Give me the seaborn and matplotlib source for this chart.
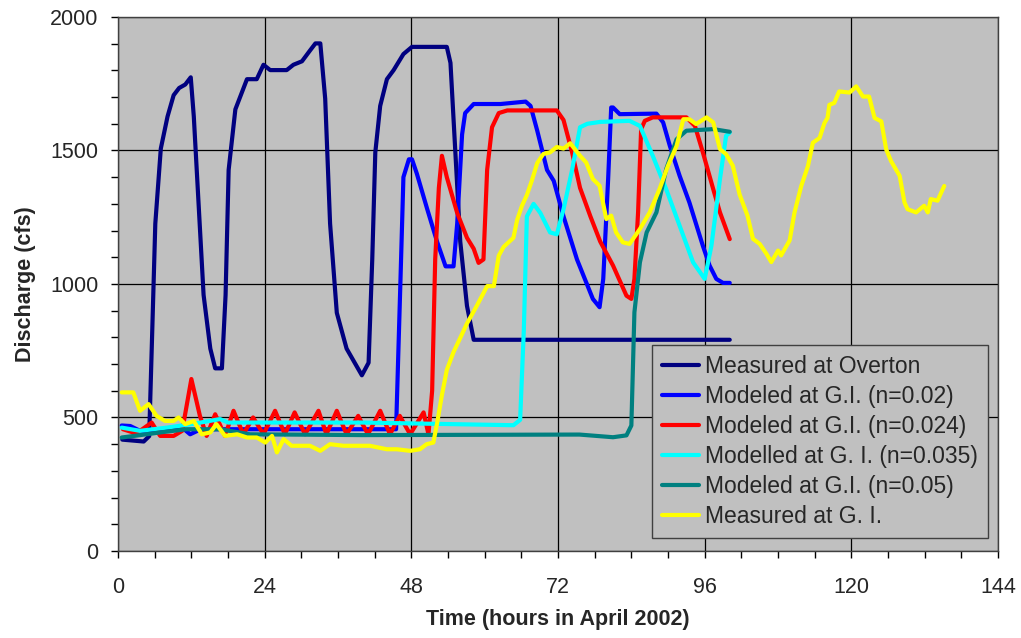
import numpy as np
import pandas as pd
import matplotlib
matplotlib.use("Agg")
import matplotlib.pyplot as plt
import seaborn as sns
from matplotlib.ticker import MultipleLocator

# --------------- DATA ---------------
overton_t = [0.7, 4.2, 5.1, 5.6, 6.1, 7.0, 8.1, 9.1, 10.0, 11.0, 11.9, 12.4, 13.2, 14.0,
             15.1, 15.9, 17.0, 17.6, 18.1, 19.2, 21.1, 22.7, 23.8, 24.9, 27.6, 28.7,
             30.1, 31.4, 32.3, 33.1, 33.9, 34.7, 35.8, 37.4, 39.9, 41.0, 41.6, 42.1,
             42.9, 44.0, 45.1, 46.7, 48.1, 53.8, 54.4, 55.2, 56.0, 57.1, 58.2, 100.1]
overton_q = [417, 410, 430, 825, 1226, 1507, 1627, 1707, 1734, 1747, 1774, 1627, 1293, 959,
             758, 684, 684, 959, 1427, 1654, 1767, 1767, 1821, 1801, 1801, 1821,
             1834, 1874, 1901, 1901, 1694, 1226, 892, 758, 658, 705, 1092, 1493,
             1667, 1767, 1801, 1861, 1888, 1888, 1828, 1493, 1159, 918, 791, 791]

n002_t = [0.6, 2.0, 3.6, 6.0, 9.0, 10.5, 11.8, 13.0, 16.0, 30.0, 45.5, 46.2, 46.7, 47.6,
          48.1, 48.9, 50.6, 52.2, 53.6, 54.9, 55.5, 56.3, 56.8, 58.2, 62.6, 66.7, 67.5,
          68.6, 70.2, 71.3, 72.9, 75.1, 77.7, 78.8, 79.4, 80.2, 80.7, 81.0, 82.1, 88.1,
          89.2, 90.3, 91.9, 93.5, 95.7, 96.8, 97.9, 99.0, 100.1]
n002_q = [470, 468, 450, 452, 460, 462, 437, 450, 456, 456, 456, 1000, 1400, 1467,
          1467, 1413, 1280, 1159, 1066, 1066, 1226, 1560, 1640, 1674, 1674, 1683, 1667,
          1574, 1427, 1386, 1253, 1092, 944, 913, 1019, 1393, 1661, 1661, 1636, 1638,
          1605, 1517, 1405, 1305, 1143, 1069, 1019, 1004, 1004]

n0024_t = [0.8, 3.0, 5.5, 6.9, 9.1, 10.5, 12.0, 13.4, 14.5, 15.9, 17.5, 18.9, 20.5, 22.1,
           23.8, 25.7, 27.3, 28.9, 30.6, 32.8, 34.1, 35.8, 37.4, 39.3, 40.9, 42.9, 44.5,
           46.1, 47.8, 50.0, 50.8, 51.4, 51.9, 52.5, 53.0, 53.8, 55.5, 57.1, 58.2, 59.0,
           59.8, 60.4, 61.2, 62.3, 63.7, 71.8, 72.9, 74.3, 75.6, 77.3, 78.9, 81.0, 83.2,
           84.0, 84.5, 85.1, 85.6, 86.2, 87.5, 93.0, 94.4, 95.7, 97.4, 98.5, 100.1]
n0024_q = [456, 440, 481, 431, 431, 450, 644, 506, 431, 512, 431, 525, 437, 500,
           437, 525, 437, 519, 437, 525, 437, 525, 437, 506, 437, 525, 437,
           506, 437, 519, 437, 600, 1092, 1360, 1480, 1400, 1266, 1173, 1132, 1079,
           1092, 1427, 1587, 1640, 1650, 1650, 1614, 1493, 1360, 1253, 1159, 1069, 956,
           944, 1019, 1268, 1580, 1611, 1624, 1624, 1592, 1493, 1355, 1268, 1168]

n0035_t = [0.6, 3.6, 8.0, 12.0, 16.7, 18.0, 40.0, 64.7, 65.8, 66.4, 66.9, 68.0, 69.1,
           70.7, 71.8, 72.9, 74.3, 75.6, 76.8, 78.9, 83.7, 85.4, 87.5, 89.7, 91.9, 94.1,
           96.0, 97.1, 98.5, 99.5, 100.1]
n0035_q = [462, 450, 462, 475, 494, 481, 481, 471, 491, 825, 1253, 1300, 1266,
           1193, 1186, 1280, 1427, 1587, 1600, 1607, 1611, 1592, 1480, 1355, 1218, 1081,
           1019, 1143, 1393, 1555, 1567]

n005_t = [0.6, 3.0, 6.9, 11.2, 16.7, 21.6, 40.0, 75.5, 81.0, 83.2, 84.0, 84.5, 85.4,
          86.5, 88.1, 89.7, 91.4, 93.0, 97.4, 100.1]
n005_q = [425, 432, 444, 456, 456, 437, 434, 436, 426, 433, 470, 894, 1081,
          1193, 1268, 1430, 1542, 1574, 1580, 1570]

gi_t = [0.6, 2.5, 3.6, 5.0, 6.3, 7.7, 9.1, 9.9, 11.0, 12.4, 13.7, 15.1, 16.1, 17.5,
        19.5, 21.1, 22.7, 24.1, 25.2, 26.0, 27.1, 28.4, 31.4, 33.1, 34.7, 36.9, 39.1,
        41.2, 44.0, 45.6, 47.8, 49.4, 50.5, 51.6, 52.2, 53.0, 53.8, 54.9, 56.0, 57.1,
        58.7, 60.4, 61.5, 62.3, 63.1, 64.7, 65.3, 66.1, 66.9, 67.7, 68.6, 69.6, 70.7,
        71.8, 72.9, 74.0, 75.6, 76.6, 77.7, 78.8, 79.9, 80.7, 81.5, 82.6, 83.7, 85.4,
        87.0, 88.6, 90.0, 91.4, 92.5, 93.5, 94.6, 96.3, 97.4, 98.5, 99.5, 100.6, 101.7,
        103.0, 103.9, 105.0, 106.1, 106.9, 108.0, 108.5, 109.9, 110.7, 111.8, 112.9,
        113.7, 114.8, 115.6, 116.1, 116.4, 117.2, 118.0, 119.7, 120.8, 121.9, 122.9,
        123.8, 124.9, 125.7, 126.5, 127.9, 128.7, 129.2, 130.6, 131.9, 132.5, 133.0,
        134.1, 135.2]
gi_q = [594, 594, 525, 550, 506, 487, 487, 500, 475, 487, 437, 444, 475, 431,
        437, 425, 425, 406, 431, 369, 419, 394, 394, 375, 400, 394, 394,
        394, 381, 381, 375, 381, 400, 406, 477, 584, 678, 745, 798, 852,
        918, 992, 992, 1106, 1139, 1173, 1239, 1293, 1333, 1386, 1453, 1487, 1493,
        1513, 1507, 1527, 1480, 1455, 1393, 1368, 1243, 1256, 1193, 1156, 1150, 1206,
        1268, 1355, 1443, 1517, 1617, 1617, 1599, 1624, 1605, 1505, 1486, 1443, 1336,
        1256, 1169, 1150, 1113, 1082, 1125, 1107, 1163, 1268, 1367, 1442,
        1529, 1547, 1603, 1622, 1671, 1678, 1721, 1717, 1740, 1702, 1702,
        1622, 1609, 1504, 1460, 1405, 1305, 1280, 1268, 1293, 1268, 1318,
        1312, 1367]

series = [
    ("Measured at Overton", overton_t, overton_q, "#000080"),
    ("Modeled at G.I. (n=0.02)", n002_t, n002_q, "#0000FF"),
    ("Modeled at G.I. (n=0.024)", n0024_t, n0024_q, "#FF0000"),
    ("Modelled at G. I. (n=0.035)", n0035_t, n0035_q, "#00FFFF"),
    ("Modeled at G.I. (n=0.05)", n005_t, n005_q, "#008080"),
    ("Measured at G. I.", gi_t, gi_q, "#FFFF00"),
]

# --------------- PLOT ---------------
sns.set_style("white")
plt.rcParams['font.family'] = ['Liberation Sans', 'DejaVu Sans']

fig, ax = plt.subplots(figsize=(10.21, 6.38), dpi=100)
fig.subplots_adjust(left=0.1156, right=0.9775, top=0.9734, bottom=0.1364)
ax.set_facecolor("#C0C0C0")

for name, t, q, col in series:
    df = pd.DataFrame({"t": t, "q": q})
    sns.lineplot(data=df, x="t", y="q", ax=ax, color=col, lw=3, label=name,
                 estimator=None, sort=False)

ax.set_xlim(0, 144)
ax.set_ylim(0, 2000)
ax.xaxis.set_major_locator(MultipleLocator(24))
ax.xaxis.set_minor_locator(MultipleLocator(6))
ax.yaxis.set_major_locator(MultipleLocator(500))
ax.yaxis.set_minor_locator(MultipleLocator(100))
ax.tick_params(which="both", direction="out", length=5, width=1, color="black",
               bottom=True, left=True, labelsize=15.5)
ax.tick_params(axis="x", which="both", pad=14)
ax.tick_params(axis="y", which="both", pad=9)
ax.grid(True, which="major", color="black", lw=0.9)
for s in ax.spines.values():
    s.set_color("#404040")
    s.set_linewidth(1)

ax.set_xlabel("Time (hours in April 2002)", fontsize=15.5, fontweight="bold", labelpad=8)
ax.set_ylabel("Discharge (cfs)", fontsize=15.5, fontweight="bold", labelpad=10)

leg = ax.legend(loc="lower right", bbox_to_anchor=(0.9886, 0.0243), fontsize=16.5,
                frameon=True, fancybox=False, facecolor="#C0C0C0", edgecolor="#404040",
                framealpha=1, handlelength=1.6, handletextpad=0.25, labelspacing=0.3,
                borderpad=0.45, borderaxespad=0)
leg.get_frame().set_linewidth(1)

fig.savefig("out.png", dpi=100, facecolor="white")
